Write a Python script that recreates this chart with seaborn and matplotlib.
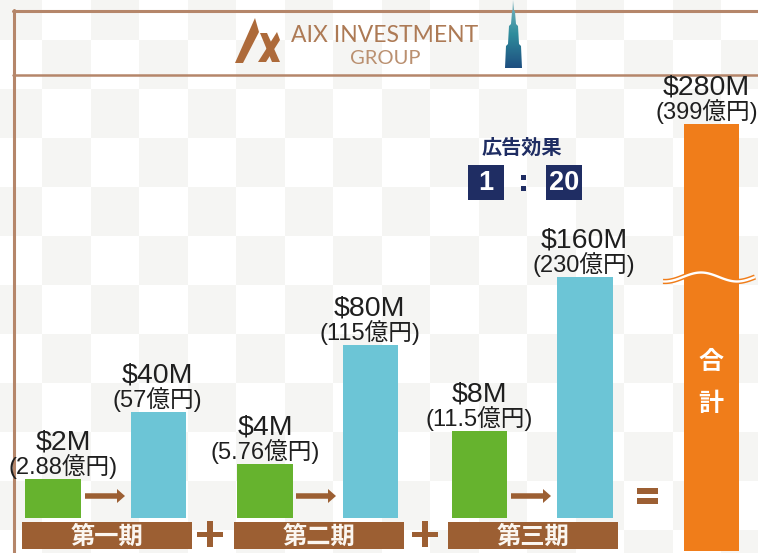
import numpy as np
import pandas as pd
import matplotlib
matplotlib.use("Agg")
import matplotlib.pyplot as plt
from matplotlib.patches import Polygon, Rectangle, FancyArrow
import seaborn as sns

sns.set_theme(style="white")
FONT = ["Liberation Sans", "Noto Sans CJK JP", "DejaVu Sans"]
plt.rcParams["font.family"] = FONT

# ----- data -----
periods = ["第一期", "第二期", "第三期"]
ad_spend = [2, 4, 8]
ad_return = [40, 80, 160]
total = 280
ad_spend_usd = ["$2M", "$4M", "$8M"]
ad_spend_jpy = ["(2.88億円)", "(5.76億円)", "(11.5億円)"]
ad_return_usd = ["$40M", "$80M", "$160M"]
ad_return_jpy = ["(57億円)", "(115億円)", "(230億円)"]
total_usd = "$280M"
total_jpy = "(399億円)"
total_name = ["合", "計"]
bar_kinds = ["広告費", "効果"]
ratio_title = "広告効果"
ratio_left = "1"
ratio_right = "20"

# the original y axis is not proportional: value -> bar height in pixels
scale_values = [0, 2, 4, 8, 40, 80, 160, 280]
scale_heights = [0, 39, 54, 87, 106, 173, 241, 394]

# ----- style / layout -----
W, H = 758, 553
GREEN, BLUE, ORANGE = "#66b32e", "#6cc5d6", "#f07d1a"
BROWN, LINE, NAVY = "#9c5f33", "#b5866a", "#1f2d63"
TEXT = "#1f1f1f"
BASE_Y = 517.5
PANEL_LEFT = [0.4, 212.4, 426.9]
PANEL_W = 211
BAR_W = 0.525


def px_axes(fig, x0, y0, x1, y1, zorder):
    ax = fig.add_axes([x0 / W, 1 - y1 / H, (x1 - x0) / W, (y1 - y0) / H], zorder=zorder)
    ax.patch.set_alpha(0)
    ax.axis("off")
    return ax


def bar_label(ax, x, y, usd, jpy, dx=0):
    ax.annotate(usd, (x, y), xytext=(dx * 0.72, 36.5 * 0.72), textcoords="offset points", ha="center", va="center",
                fontsize=20.5, color=TEXT, annotation_clip=False)
    ax.annotate(jpy, (x, y), xytext=(dx * 0.72, 12.5 * 0.72), textcoords="offset points", ha="center", va="center",
                fontsize=17, color=TEXT, annotation_clip=False)


fig = plt.figure(figsize=(W / 100, H / 100), dpi=100)

# ----- background -----
bg = px_axes(fig, 0, 0, W, H, 0)
bg.set_xlim(0, W)
bg.set_ylim(H, 0)
xs = (np.arange(W) - 478.5) // 48.5
ys = (np.arange(H) - 138) // 49
tiles = (xs[None, :] + ys[:, None]) % 2
bg.imshow(tiles, cmap=matplotlib.colors.ListedColormap(["#ffffff", "#f5f5f3"]), extent=(0, W, H, 0),
          aspect="auto", interpolation="nearest", zorder=0)

# frame
bg.plot([13, W], [10.5, 10.5], color=LINE, lw=2.2, zorder=1)
bg.plot([13, W], [74.5, 74.5], color=LINE, lw=1.8, zorder=1)
bg.plot([13.5, 13.5], [10, H], color=LINE, lw=2.2, zorder=1)

# logo
for pts in ([(235, 63), (255, 18), (259, 32), (243, 63)],
            [(260, 33), (267, 33), (280, 62), (272, 62)],
            [(277, 32), (280, 40), (266, 62), (258, 62)]):
    bg.add_patch(Polygon(pts, closed=True, color="#ad6a3a", lw=0, zorder=2))
bg.text(385, 36, "AIX INVESTMENT", fontsize=16.5, family="Lato", color="#ad7a55", ha="center", va="center", zorder=2)
bg.text(385.5, 59, "GROUP", fontsize=14.5, family="Lato", color="#ba9070", ha="center", va="center", zorder=2)

# tower
tower = Polygon([(513, 0), (514, 10), (515, 12), (516, 24), (518, 26), (519, 44), (521, 46), (522, 68),
                 (505, 68), (506, 46), (508, 44), (509, 26), (511, 24), (512, 12), (512.5, 10)],
                closed=True, transform=bg.transData, lw=0)
grad = bg.imshow(np.linspace(0, 1, 70)[:, None], cmap=matplotlib.colors.LinearSegmentedColormap.from_list(
    "tower", ["#7fb6c0", "#2f8c9c", "#1e4f80"]), extent=(505, 522, 68, 0), aspect="auto", zorder=2)
grad.set_clip_path(tower)
bg.set_xlim(0, W)
bg.set_ylim(H, 0)

# period bars, arrows and signs
for left, name in zip([22, 234, 448], periods):
    bg.add_patch(Rectangle((left, 522), 170, 27, color=BROWN, lw=0, zorder=2))
    bg.text(left + 85, 537, name, color="#fbf6f0", fontsize=17.5, fontweight="bold", ha="center", va="center", zorder=3)
for x in [85, 296, 511]:
    bg.add_patch(FancyArrow(x, 496, 40, 0, width=5.5, head_width=14, head_length=8, length_includes_head=True,
                            color=BROWN, lw=0, zorder=2))
for x in [210, 425]:
    bg.add_patch(Rectangle((x - 13, 531.5), 26, 5.5, color=BROWN, lw=0, zorder=2))
    bg.add_patch(Rectangle((x - 3, 521), 6, 26, color=BROWN, lw=0, zorder=2))
for y in [488, 498]:
    bg.add_patch(Rectangle((637, y), 21, 5.5, color=BROWN, lw=0, zorder=2))

# ratio box
bg.text(522, 148, ratio_title, color=NAVY, fontsize=14.5, fontweight="bold", ha="center", va="center", zorder=3)
for left, txt in [(468, ratio_left), (546, ratio_right)]:
    bg.add_patch(Rectangle((left, 165), 35.5, 35, color=NAVY, lw=0, zorder=2))
    bg.text(left + 17.75, 182.5, txt, color="white", fontsize=19.5, fontweight="bold", ha="center", va="center", zorder=3)
for y in [177.5, 188]:
    bg.add_patch(Rectangle((521, y - 2.5), 5, 5, color=NAVY, lw=0, zorder=2))

# ----- bars: one small panel per period -----
for i in range(3):
    df = pd.DataFrame({"kind": bar_kinds, "value": [ad_spend[i], ad_return[i]]})
    ax = px_axes(fig, PANEL_LEFT[i], 124, PANEL_LEFT[i] + PANEL_W, BASE_Y, 2)
    sns.barplot(data=df, x="kind", y="value", hue="kind", palette=[GREEN, BLUE], legend=False,
                width=BAR_W, saturation=1, linewidth=0, ax=ax)
    ax.set_yscale("function", functions=(lambda v: np.interp(v, scale_values, scale_heights),
                                         lambda h: np.interp(h, scale_heights, scale_values)))
    ax.set_xlim(-0.5, 1.5)
    ax.set_ylim(0, total)
    ax.axis("off")
    bar_label(ax, 0, ad_spend[i], ad_spend_usd[i], ad_spend_jpy[i], dx=10 if i == 0 else 0)
    bar_label(ax, 1, ad_return[i], ad_return_usd[i], ad_return_jpy[i], dx=-1)

# total bar runs down past the baseline to the picture's edge
ax_total = px_axes(fig, 665.5, 124, W - 0.5, 551, 2)
sns.barplot(x=["合計"], y=[total], color=ORANGE, width=54.5 / 92, saturation=1, linewidth=0, ax=ax_total)
ax_total.set_xlim(-0.5, 0.5)
ax_total.set_ylim(0, total)
ax_total.axis("off")
bar_label(ax_total, 0, total, total_usd, total_jpy, dx=-5)

# ----- foreground: axis break and label on the total bar -----
fg = px_axes(fig, 0, 0, W, H, 5)
fg.set_xlim(0, W)
fg.set_ylim(H, 0)
wave_x = np.linspace(663, 755, 60)
wave_y = 277 + 4.5 * np.sin((wave_x - 683) / 36 * np.pi + np.pi)
fg.plot(wave_x, wave_y, color=ORANGE, lw=3.8, solid_capstyle="butt")
fg.plot(wave_x, wave_y, color="white", lw=1.7, solid_capstyle="butt")
fg.text(711, 362, total_name[0], color="white", fontsize=18, fontweight="bold", ha="center", va="center")
fg.text(711, 404, total_name[1], color="white", fontsize=18, fontweight="bold", ha="center", va="center")

fig.savefig("out.png", dpi=100)
plt.close(fig)
